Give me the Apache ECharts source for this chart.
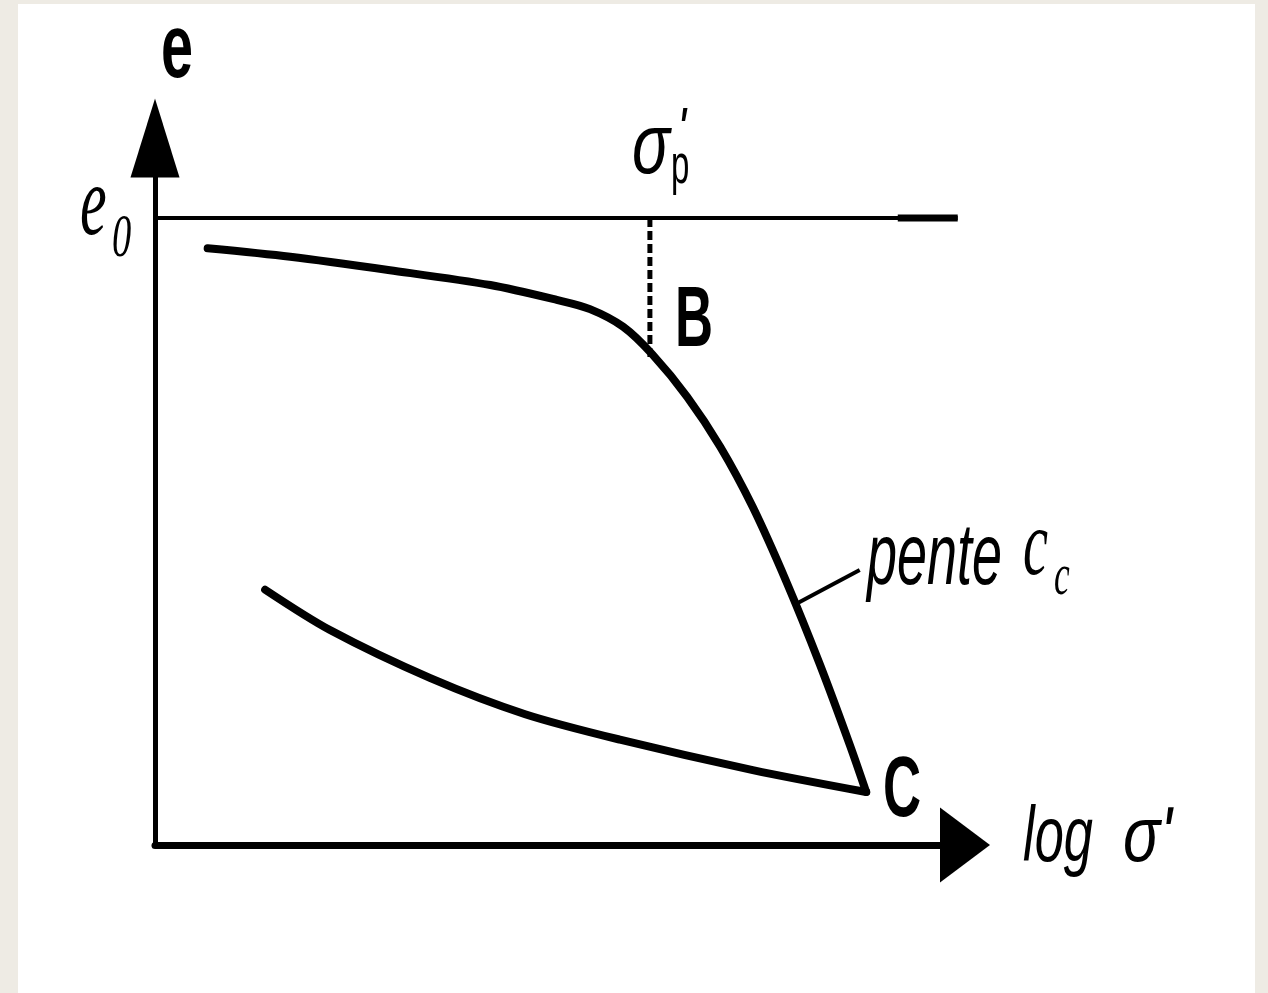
<!DOCTYPE html>
<html>
<head>
<meta charset="utf-8">
<script src="https://cdn.jsdelivr.net/npm/echarts@6/dist/echarts.min.js"></script>
<style>
  html, body { margin: 0; padding: 0; background: #eeebe4; }
  #chart { width: 1268px; height: 993px; }
</style>
</head>
<body>
<div id="chart"></div>
<script>
// curve e - log sigma' (arbitrary units, 0..10 on both axes)
const upperX = [0.65, 1.67, 2.90, 4.14, 4.96, 5.37, 5.78, 6.14, 6.57, 6.98, 7.38, 7.80, 8.21, 8.58, 8.78];
const upperE = [8.44, 8.32, 8.13, 7.92, 7.71, 7.58, 7.33, 6.94, 6.34, 5.63, 4.78, 3.71, 2.55, 1.41, 0.75];
const lowerX = [1.36, 2.16, 3.40, 4.57, 5.74, 7.38, 8.78];
const lowerE = [3.61, 3.04, 2.36, 1.85, 1.49, 1.06, 0.75];
const e0 = 8.87;
const e0LineEnd = 9.91;
const e0ThickStart = 9.17;
const sigmaP = 6.11;
const dashBottom = 6.86;
const leaderX = [7.93, 8.70];
const leaderE = [3.42, 3.89];

function pairs(xs, ys) {
  return xs.map(function (x, i) { return [x, ys[i]]; });
}

var chart = echarts.init(document.getElementById('chart'));

function txt(x, y, text, font, sx) {
  return {
    type: 'text', x: x, y: y, scaleX: sx, z: 10,
    style: { text: text, font: font, fill: '#000', align: 'left', verticalAlign: 'middle' }
  };
}

var option = {
  animation: false,
  backgroundColor: '#eeebe4',
  grid: { left: 155, right: 303, top: 138, bottom: 148, containLabel: false },
  xAxis: {
    type: 'value', min: 0, max: 10,
    axisLine: { show: true, symbol: ['none', 'triangle'], symbolSize: [75, 50], lineStyle: { color: '#000', width: 7 } },
    axisTick: { show: false }, axisLabel: { show: false }, splitLine: { show: false }
  },
  yAxis: {
    type: 'value', min: 0, max: 10,
    axisLine: { show: true, symbol: ['none', 'triangle'], symbolSize: [49, 79], lineStyle: { color: '#000', width: 5 } },
    axisTick: { show: false }, axisLabel: { show: false }, splitLine: { show: false }
  },
  graphic: [
    { type: 'rect', z: -100, shape: { x: 18, y: 4, width: 1237, height: 995 }, style: { fill: '#fff' } },
    txt(161, 52, 'e', 'bold 90px "Liberation Sans"', 0.64),
    txt(80, 208, 'e', 'italic 100px "Liberation Serif"', 0.6),
    txt(112, 240, '0', 'italic 62px "Liberation Serif"', 0.62),
    txt(632, 149, 'σ', 'italic 85px "Liberation Sans"', 0.74),
    txt(677, 132, "'", 'italic 60px "Liberation Sans"', 0.8),
    txt(671, 168, 'p', '55px "Liberation Sans"', 0.6),
    txt(675, 323, 'B', 'bold 85px "Liberation Sans"', 0.62),
    txt(867, 560, 'pente', 'italic 87px "Liberation Sans"', 0.62),
    txt(1023, 549, 'c', 'italic 94px "Liberation Serif"', 0.6),
    txt(1054, 578, 'c', 'italic 59px "Liberation Serif"', 0.6),
    txt(883, 793, 'C', 'bold 85px "Liberation Sans"', 0.62),
    txt(1023, 840, 'log', 'italic 77px "Liberation Sans"', 0.68),
    txt(1123, 840, "σ'", 'italic 77px "Liberation Sans"', 0.8)
  ],
  series: [
    {
      type: 'line', data: [[0, e0], [e0LineEnd, e0]], symbol: 'none',
      lineStyle: { color: '#000', width: 4 }
    },
    {
      type: 'line', data: [[e0ThickStart, e0], [e0LineEnd, e0]], symbol: 'none',
      lineStyle: { color: '#000', width: 7 }
    },
    {
      type: 'line', data: [[sigmaP, e0], [sigmaP, dashBottom]], symbol: 'none',
      lineStyle: { color: '#000', width: 5, type: [9, 4] }
    },
    {
      type: 'line', data: pairs(upperX, upperE), symbol: 'none', smooth: 0.3,
      lineStyle: { color: '#000', width: 8, cap: 'round' }
    },
    {
      type: 'line', data: pairs(lowerX, lowerE), symbol: 'none', smooth: 0.3,
      lineStyle: { color: '#000', width: 8, cap: 'round' }
    },
    {
      type: 'line', data: pairs(leaderX, leaderE), symbol: 'none',
      lineStyle: { color: '#000', width: 4 }
    }
  ]
};

chart.setOption(option);
</script>
</body>
</html>
